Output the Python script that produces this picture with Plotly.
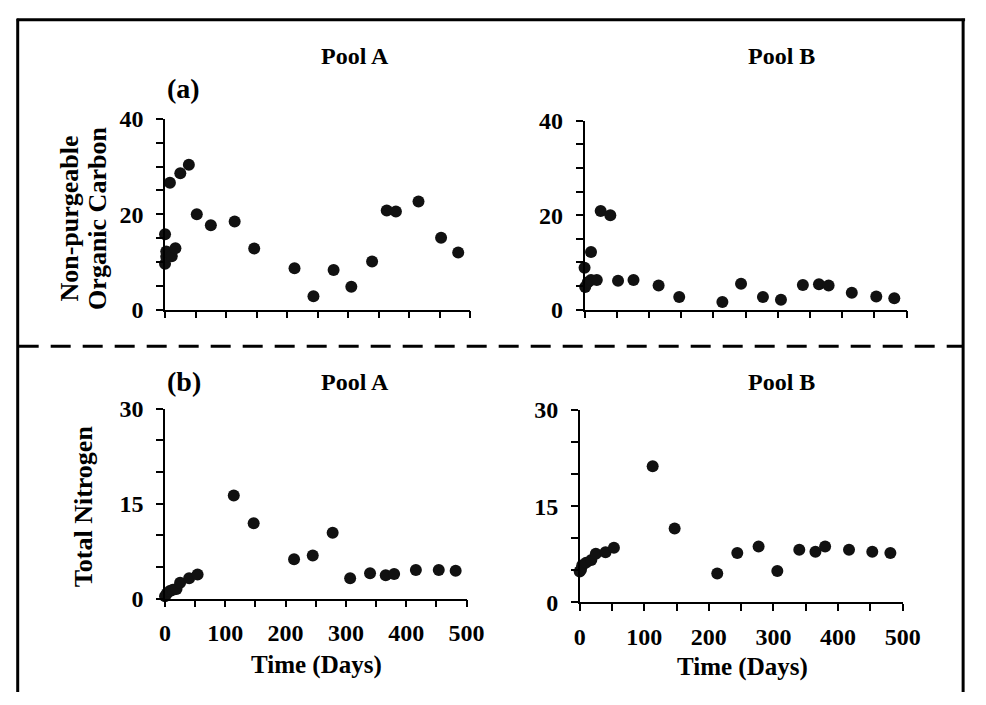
import plotly.graph_objects as go

# ---------------- data ----------------
npoc_a_days = [0, 0, 2, 2, 8, 11, 17, 25, 39, 52, 75, 114, 146, 212, 243, 276, 305, 339, 363, 378, 415, 452, 480]
npoc_a_vals = [15.8, 9.6, 11.1, 12.2, 26.6, 11.2, 12.9, 28.6, 30.4, 20.0, 17.7, 18.5, 12.8, 8.7, 2.8, 8.3, 4.8, 10.1, 20.8, 20.6, 22.7, 15.1, 12.0]

npoc_b_days = [0, 1, 5, 10, 10, 19, 25, 40, 52, 76, 115, 147, 214, 243, 277, 305, 339, 364, 379, 415, 453, 481]
npoc_b_vals = [8.9, 4.8, 5.8, 12.2, 6.3, 6.3, 20.9, 20.0, 6.1, 6.3, 5.1, 2.7, 1.6, 5.5, 2.7, 2.1, 5.2, 5.4, 5.1, 3.6, 2.8, 2.4]

tn_a_days = [0, 3, 8, 13, 19, 25, 40, 54, 114, 147, 214, 245, 278, 307, 340, 366, 380, 416, 454, 482]
tn_a_vals = [0.35, 0.8, 1.2, 1.4, 1.5, 2.5, 3.2, 3.8, 16.3, 11.9, 6.2, 6.8, 10.4, 3.2, 4.0, 3.7, 3.9, 4.5, 4.5, 4.4]

tn_b_days = [0, 2, 4, 10, 18, 25, 40, 53, 113, 147, 213, 244, 277, 306, 340, 365, 380, 417, 453, 481]
tn_b_vals = [4.8, 5.1, 5.8, 6.2, 6.6, 7.6, 7.8, 8.5, 21.2, 11.5, 4.5, 7.7, 8.7, 4.9, 8.2, 7.9, 8.7, 8.2, 7.9, 7.7]

x_ticks = [0, 100, 200, 300, 400, 500]
npoc_ticks = [0, 20, 40]
tn_ticks = [0, 15, 30]

pool_titles = ["Pool A", "Pool B"]
panel_labels = ["(a)", "(b)"]
npoc_title_lines = ["Non-purgeable", "Organic Carbon"]
tn_title = "Total Nitrogen"
x_title = "Time (Days)"

# ---------------- layout helpers ----------------
W, H = 986, 705
FONT = "Liberation Serif"

def px(x):
    return x / W

def py(y):
    return 1 - y / H

fig = go.Figure()

panels = [
    # (days, vals, xaxis, yaxis, x0, x1, ytop, ybottom, yrange, yticks, show x labels)
    (npoc_a_days, npoc_a_vals, "x", "y", 163, 476, 110, 308, [0, 40], npoc_ticks, False),
    (npoc_b_days, npoc_b_vals, "x2", "y2", 593, 923, 112, 308, [0, 40], npoc_ticks, False),
    (tn_a_days, tn_a_vals, "x3", "y3", 163, 472, 411, 608, [0, 30], tn_ticks, True),
    (tn_b_days, tn_b_vals, "x4", "y4", 588, 919, 412, 612, [0, 30], tn_ticks, True),
]

for i, (d, v, xa, ya, x0, x1, yt, yb, yr, yt_vals, showx) in enumerate(panels):
    fig.add_trace(go.Scatter(
        x=d, y=v, mode="markers", xaxis=xa, yaxis=ya,
        marker=dict(size=12, color="#111111"), cliponaxis=False, showlegend=False,
    ))
    xkey = "xaxis" if xa == "x" else "xaxis" + xa[1:]
    ykey = "yaxis" if ya == "y" else "yaxis" + ya[1:]
    fig.layout[xkey] = dict(
        domain=[px(x0), px(x1)], anchor=ya, range=[0, 500],
        showgrid=False, zeroline=False, showline=True, linecolor="black", linewidth=1.5,
        ticks="outside", ticklen=7, tickwidth=1.5, tickcolor="black",
        tickvals=x_ticks, showticklabels=showx, ticklabelstandoff=5,
        minor=dict(dtick=50, tick0=0, ticks="outside", ticklen=7, tickwidth=1.5, tickcolor="black"),
        tickfont=dict(family=FONT, size=24, color="black", weight="bold"),
        fixedrange=True,
    )
    fig.layout[ykey] = dict(
        domain=[py(yb), py(yt)], anchor=xa, range=yr,
        showgrid=False, zeroline=False, showline=True, linecolor="black", linewidth=1.5,
        ticks="outside", ticklen=7, tickwidth=1.5, tickcolor="black",
        tickvals=yt_vals, ticklabelstandoff=8,
        minor=dict(dtick=5, tick0=0, ticks="outside", ticklen=7, tickwidth=1.5, tickcolor="black"),
        tickfont=dict(family=FONT, size=24, color="black", weight="bold"),
        fixedrange=True,
    )

annotations = []

def ann(text, x, y, size, angle=0):
    annotations.append(dict(
        text=text, x=px(x), y=py(y), xref="paper", yref="paper",
        showarrow=False, textangle=angle, xanchor="center", yanchor="middle",
        font=dict(family=FONT, size=size, color="black", weight="bold"),
    ))

ann(pool_titles[0], 358, 45, 24)
ann(pool_titles[1], 795, 45, 24)
ann(panel_labels[0], 182, 78, 28)
ann(panel_labels[1], 182, 383, 28)
ann(pool_titles[0], 358, 383, 24)
ann(pool_titles[1], 795, 383, 24)
ann(npoc_title_lines[0], 65, 213, 26, -90)
ann(npoc_title_lines[1], 93, 213, 26, -90)
ann(tn_title, 79, 512, 26, -90)
ann(x_title, 318, 677, 25)
ann(x_title, 755, 679, 25)

shapes = [
    dict(type="line", xref="paper", yref="paper", x0=px(12), x1=px(12), y0=py(6), y1=py(705),
         line=dict(color="black", width=3)),
    dict(type="line", xref="paper", yref="paper", x0=px(11), x1=px(983), y0=py(7), y1=py(7),
         line=dict(color="black", width=3)),
    dict(type="line", xref="paper", yref="paper", x0=px(981), x1=px(981), y0=py(6), y1=py(705),
         line=dict(color="black", width=3)),
    dict(type="line", xref="paper", yref="paper", x0=px(13), x1=px(981), y0=py(346), y1=py(346),
         line=dict(color="black", width=3, dash="20px,12px")),
]

fig.update_layout(
    width=W, height=H,
    margin=dict(l=0, r=0, t=0, b=0),
    paper_bgcolor="white", plot_bgcolor="white",
    annotations=annotations, shapes=shapes,
    font=dict(family=FONT, color="black"),
    showlegend=False,
)

fig.write_html(
    "out.html",
    config={"displayModeBar": False},
    post_script="document.body.style.margin='0';document.body.style.overflow='hidden';",
)
